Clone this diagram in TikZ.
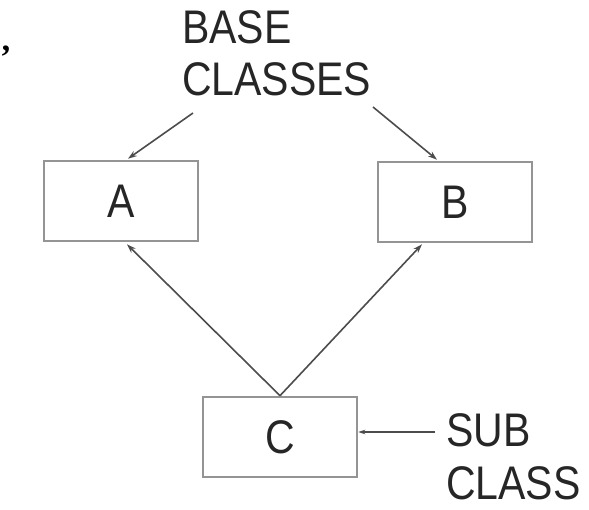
\documentclass[tikz,border=0pt]{standalone}
\usepackage{fontspec}
\usepackage{graphicx}
\setmainfont{Liberation Sans}
\newfontfamily\markfont{Liberation Serif}
\newcommand{\talltext}[1]{\scalebox{1}[1.15]{#1}}
\usetikzlibrary{arrows.meta,calc}
\begin{document}
\begin{tikzpicture}[x=1pt,y=-1pt,
  box/.style={draw=black!42,line width=2.6pt,minimum width=154pt,minimum height=80pt,inner sep=0pt,
    font=\fontsize{41}{44}\selectfont,text=black!85},
  lbl/.style={font=\fontsize{41}{52}\selectfont,text=black!85,align=left,inner sep=0pt},
  conn/.style={draw=black!70,line width=1.6pt,-{Stealth[length=9pt,width=6pt]}},
  thin/.style={draw=black!70,line width=1.2pt,-{Stealth[length=7pt,width=4.5pt]}}]
\useasboundingbox (0,0) rectangle (589,509);
\node[box] (A) at (121,201) {\talltext{A}};
\node[box] (B) at (455,202) {\talltext{B}};
\node[box] (C) at (280,437) {\talltext{C}};
\node[lbl,anchor=north west] (base) at (182,10) {\talltext{BASE}\\[0pt]\talltext{CLASSES}};
\node[lbl,anchor=north west] (sub) at (446,413) {\talltext{SUB}\\[1pt]\talltext{CLASS}};
\node[inner sep=0pt,anchor=north west,font=\markfont\bfseries\fontsize{34}{34}\selectfont] (mark) at (0,46) {’};
\coordinate (bl) at (193,113);
\coordinate (br) at (373,107);
\coordinate (sl) at (435,432);
\draw[conn] (bl) -- ($(A.north)+(7,-1)$);
\draw[conn] (br) -- ($(B.north)+(-18,-1)$);
\draw[conn] (C.north) -- ($(A.south)+(6,2)$);
\draw[conn] (C.north) -- ($(B.south)+(-33,1)$);
\draw[thin] (sl) -- (C.east |- sl);
\end{tikzpicture}
\end{document}
